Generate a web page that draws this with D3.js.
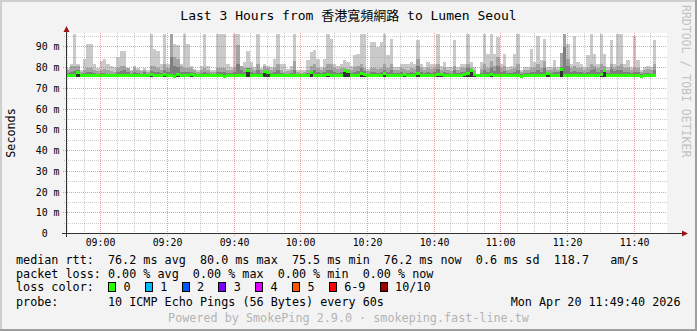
<!DOCTYPE html>
<html>
<head>
<meta charset="utf-8">
<script src="https://cdn.jsdelivr.net/npm/d3@7"></script>
<style>
  html, body { margin: 0; padding: 0; background: #f3f3f3; }
  svg { display: block; }
  text { font-family: "DejaVu Sans Mono", "Noto Sans CJK TC", monospace; white-space: pre; }
</style>
</head>
<body>
<div id="chart"></div>
<script>
/* Data (ms), one value per minute, 08:49:40 .. 11:49:40 */
const rttMax = [
  80, 82, 97, 82, 79, 84, 91.5, 91.5, 82, 80,
  83, 84, 82, 81, 80.5, 85, 88, 88, 80, 79,
  81, 80, 79, 80, 79, 97, 89, 88, 82, 97,
  82, 97, 91.5, 90.7, 82, 97, 91.5, 80.6, 79.5, 78.7,
  81, 97, 81, 78.7, 78.7, 97, 97, 97, 82, 80.3,
  97, 97, 81, 82.7, 88, 82.7, 80.3, 97, 80, 82,
  81, 80.3, 84.3, 97, 82, 82, 79.5, 81, 97, 78.7,
  78.7, 78.7, 83.5, 87.5, 88.3, 84.3, 80.3, 84.3, 97, 94,
  82, 81, 82, 83.5, 82.7, 81, 86, 86.7, 97, 97,
  79.5, 92.3, 92.3, 90, 92.3, 97, 86, 94, 80.3, 80.3,
  82, 82, 82, 82.7, 82, 93.5, 82, 80.3, 82.7, 82,
  82, 97, 81, 82.7, 80.3, 80.3, 93.5, 80.3, 82, 82,
  97, 82.7, 80.3, 77.1, 82.7, 97, 86.7, 97, 86.7, 94.7,
  82, 86.7, 80.3, 81, 86.7, 97, 78.7, 80.3, 80.3, 89,
  82.7, 95.5, 83.5, 94, 80.3, 80.3, 83.5, 80.3, 86, 97,
  91.5, 82, 95.5, 82.7, 82, 80.3, 86, 97, 86.7, 82,
  97, 86.7, 80.3, 93.2, 82, 97, 97, 82, 83.5, 80.3,
  95.5, 83.5, 78.7, 80.3, 81, 80.3, 93.5, null, null, null
];
const rttP9 = [
  79, 81, 81, 81, 78, 79, 80, 80, 78.7, 78.5,
  79, 79.5, 79, 78.5, 78, 80, 81, 81, 80, 78.5,
  80, 79, 78.5, 79, 78, 80.6, 81, 80, 79, 82,
  80, 97, 85, 84, 81, 80, 80, 80, 79, 78,
  79, 80, 79, 78, 78, 80, 80, 80, 79, 79,
  80, 90.7, 81, 80, 80, 80, 79, 82, 79, 81,
  80, 79, 80, 82, 79, 78, 78.5, 79, 83, 78,
  77.5, 78, 79, 81, 82, 80, 79, 80, 82, 82,
  80, 79.5, 80, 80, 79.5, 79, 80.5, 81, 82, 80,
  78.5, 80, 80, 79.5, 80, 82, 80, 82, 79, 79,
  80, 79.5, 79, 80, 79.5, 84, 80, 79, 80, 79.5,
  80, 82, 79, 80, 79, 78.5, 81, 79, 80, 80,
  82, 80, 79, 77, 79.5, 82, 80, 83, 81, 85,
  80, 81, 79, 79.5, 80, 82, 78, 79, 79, 80,
  80, 82, 80, 83, 79, 79, 80, 79, 87, 97,
  84, 80, 81, 80, 80, 79, 80, 82, 81, 80,
  82, 81, 79, 82, 80, 81, 82, 80, 80, 79,
  80, 80, 78, 79, 79.5, 79, 82, null, null, null
];
const rttP8 = [
  77.5, 78, 78.5, 79, 77, 77.5, 78, 78, 77.5, 77,
  77.5, 77.5, 77, 77, 77, 78, 78.5, 79, 78, 77,
  78, 77.5, 77, 78, 77, 78.5, 78, 78, 77.5, 79,
  78, 85, 81, 80.5, 78, 78, 78, 78, 77.5, 77,
  77.5, 78, 77.5, 77, 77, 78, 78, 78, 77.5, 77.5,
  78, 82, 79, 78, 80, 78, 77.5, 79, 77.5, 79,
  78.5, 77.5, 78, 79, 77.5, 77, 77, 77.5, 79, 77,
  76.5, 77, 77.5, 78.5, 79, 78, 77.5, 78, 79, 79,
  78, 77.5, 78, 79.5, 78, 77.5, 78, 78.5, 80, 78.5,
  77, 78, 78, 77.5, 78, 79, 78, 79, 77.5, 77.5,
  78, 77.5, 77.5, 78, 77.5, 81, 78, 77.5, 78, 77.5,
  78, 79.5, 77.5, 78, 77.5, 77, 79, 77.5, 78, 78,
  80, 79.5, 77.5, 76.5, 77.5, 79, 78, 80, 78.5, 81,
  78, 78.5, 77.5, 77.5, 78, 79, 77, 77.5, 77.5, 78,
  78, 79, 78, 80, 78, 77.5, 78, 78, 80.5, 90,
  81, 78, 78.5, 78, 78, 77.5, 78, 79, 79.5, 78,
  79, 78.5, 77.5, 79.5, 78.5, 79, 79, 78, 78, 77.5,
  78, 78, 77, 77.5, 77.5, 77, 79, null, null, null
];
const rttMed = [
  76.0, 76.2, 76.4, 77.8, 76.2, 76.0, 76.2, 76.2, 76.0, 76.0,
  76.2, 76.2, 76.0, 76.2, 76.4, 76.2, 76.0, 76.4, 76.2, 76.0,
  76.2, 76.4, 76.2, 76.0, 76.2, 76.6, 76.2, 76.2, 76.0, 76.6,
  76.4, 76.2, 75.8, 76.6, 76.2, 76.4, 76.2, 76.6, 76.2, 76.0,
  76.2, 76.2, 76.0, 76.2, 76.4, 76.2, 76.0, 75.8, 76.2, 76.2,
  76.4, 76.2, 76.4, 76.0, 78.4, 76.2, 76.0, 76.2, 76.4, 78.0,
  77.6, 76.2, 76.0, 76.4, 76.2, 76.0, 76.2, 76.0, 76.4, 76.2,
  76.0, 76.2, 76.4, 77.8, 76.2, 76.0, 76.2, 76.4, 76.8, 76.2,
  76.2, 76.0, 76.2, 78.8, 78.0, 76.2, 76.4, 76.2, 77.4, 76.6,
  76.2, 76.4, 76.2, 76.0, 76.2, 77.0, 76.2, 76.4, 76.2, 76.2,
  76.0, 76.8, 76.2, 76.4, 76.2, 77.2, 76.4, 76.2, 76.0, 76.2,
  76.2, 76.6, 76.8, 76.2, 76.0, 76.2, 76.2, 76.0, 76.4, 76.6,
  77.4, 78.6, 76.6, 76.2, 76.0, 76.2, 76.2, 76.6, 76.4, 76.2,
  76.0, 76.2, 76.2, 76.4, 76.2, 76.0, 75.8, 76.0, 76.2, 76.2,
  76.2, 76.2, 76.2, 76.4, 77.2, 76.2, 76.0, 76.2, 79.2, 76.4,
  76.2, 76.2, 76.2, 76.2, 76.0, 76.2, 76.2, 76.4, 76.2, 76.2,
  76.6, 78.6, 76.2, 76.2, 76.2, 76.0, 76.2, 76.2, 76.2, 76.4,
  76.2, 76.0, 75.8, 76.2, 76.2, 76.0, 76.4, null, null, null
];
const minRtt = 75.5;

const smokeColors = ['#cacaca', '#a4a4a4', '#7e7e7e', '#323232'];

const yMajorTicks = [0, 10, 20, 30, 40, 50, 60, 70, 80, 90];
const yTickLabels = ['0  ', '10 m', '20 m', '30 m', '40 m', '50 m', '60 m', '70 m', '80 m', '90 m'];

const lossLabels = ['0', '1', '2', '3', '4', '5', '6-9', '10/10'];
const lossColors = ['#26ff00', '#00b8ff', '#0059ff', '#7e00ff', '#dd00ff', '#ff5500', '#ff0000', '#a10000'];

const rttLegend = ['76.2 ms avg', '80.0 ms max', '75.5 ms min', '76.2 ms now', '0.6 ms sd', '118.7   am/s'];
const lossLegend = ['0.00 % avg', '0.00 % max', '0.00 % min', '0.00 % now'];

const TITLE = 'Last 3 Hours from 香港寬頻網路 to Lumen Seoul';
const PROBE = '10 ICMP Echo Pings (56 Bytes) every 60s';
const STAMP = 'Mon Apr 20 11:49:40 2026';
const WATERMARK = 'RRDTOOL / TOBI OETIKER';
const FOOTER = 'Powered by SmokePing 2.9.0 · smokeping.fast-line.tw';

/* Layout */
const W = 697, H = 331;
const T0 = new Date(2026, 3, 20, 8, 49, 40);
const T1 = new Date(2026, 3, 20, 11, 49, 40);
const x = d3.scaleTime().domain([T0, T1]).range([66.3, 666.3]);
const y = d3.scaleLinear().domain([0, 96.48]).range([233.5, 33.5]);
const colTime = function(i) { return d3.timeMinute.offset(T0, i); };
const crisp = function(v) { return Math.floor(v) + 0.5; };

const svg = d3.select('#chart').append('svg')
  .attr('width', W).attr('height', H);

// background + shaded frame
svg.append('rect').attr('width', W).attr('height', H).attr('fill', '#f3f3f3');
svg.append('rect').attr('x', 0).attr('y', 0).attr('width', W).attr('height', 2).attr('fill', '#cfcfcf');
svg.append('rect').attr('x', 0).attr('y', 0).attr('width', 2).attr('height', H).attr('fill', '#cfcfcf');
svg.append('rect').attr('x', 0).attr('y', H - 2).attr('width', W).attr('height', 2).attr('fill', '#9e9e9e');
svg.append('rect').attr('x', W - 2).attr('y', 0).attr('width', 2).attr('height', H).attr('fill', '#9e9e9e');

// canvas
svg.append('rect')
  .attr('x', 66).attr('y', 33).attr('width', 601).attr('height', 201)
  .attr('fill', '#ffffff');

/* Smoke */
const cols = d3.range(rttMax.length);
const smoke = svg.append('g').attr('shape-rendering', 'crispEdges');
[rttMax, rttP9, rttP8, rttMed].forEach(function(series, k) {
  smoke.append('g').selectAll('rect')
    .data(cols.filter(function(i) { return series[i] != null; }))
    .enter().append('rect')
    .attr('x', function(i) { return x(colTime(i)); })
    .attr('width', function(i) { return x(colTime(i + 1)) - x(colTime(i)); })
    .attr('y', function(i) { return y(Math.min(series[i], 96.48)); })
    .attr('height', function(i) { return Math.max(0, y(minRtt) - y(Math.min(series[i], 96.48))); })
    .attr('fill', smokeColors[k]);
});

/* Median (loss 0) */
svg.append('g').attr('shape-rendering', 'crispEdges').selectAll('rect')
  .data(cols.filter(function(i) { return rttMed[i] != null; }))
  .enter().append('rect')
  .attr('x', function(i) { return x(colTime(i)); })
  .attr('width', function(i) { return x(colTime(i + 1)) - x(colTime(i)); })
  .attr('y', function(i) { return y(rttMed[i]) - 1.5; })
  .attr('height', 3)
  .attr('fill', lossColors[0]);

/* Grid */
const grid = svg.append('g').attr('shape-rendering', 'crispEdges');
const minorColor = 'rgba(143,143,143,0.45)';
const majorColor = 'rgba(222,80,80,0.55)';

const xMinor = d3.timeMinute.every(5).range(T0, T1).filter(function(t) { return t.getMinutes() % 20 !== 0; });
const xMajor = d3.timeMinute.every(20).range(T0, T1);
const yMinor = d3.range(5, 96, 10);

grid.selectAll('.xminor').data(xMinor).enter().append('line')
  .attr('x1', function(d) { return crisp(x(d)); }).attr('x2', function(d) { return crisp(x(d)); })
  .attr('y1', 33).attr('y2', 235)
  .attr('stroke', minorColor).attr('stroke-dasharray', '1,1');
grid.selectAll('.yminor').data(yMinor).enter().append('line')
  .attr('x1', 64).attr('x2', 667)
  .attr('y1', function(d) { return crisp(y(d)); }).attr('y2', function(d) { return crisp(y(d)); })
  .attr('stroke', minorColor).attr('stroke-dasharray', '1,1');
grid.selectAll('.xmajor').data(xMajor).enter().append('line')
  .attr('x1', function(d) { return crisp(x(d)); }).attr('x2', function(d) { return crisp(x(d)); })
  .attr('y1', 33).attr('y2', 236)
  .attr('stroke', majorColor).attr('stroke-dasharray', '1,1');
grid.selectAll('.ymajor').data(yMajorTicks.slice(1)).enter().append('line')
  .attr('x1', 63).attr('x2', 667)
  .attr('y1', function(d) { return crisp(y(d)); }).attr('y2', function(d) { return crisp(y(d)); })
  .attr('stroke', majorColor).attr('stroke-dasharray', '1,1');

/* Axes */
const axisColor = '#333333';
const arrowColor = '#9b1515';
svg.append('line').attr('x1', 62).attr('x2', 683).attr('y1', 233.5).attr('y2', 233.5)
  .attr('stroke', axisColor).attr('shape-rendering', 'crispEdges');
svg.append('line').attr('x1', 66.5).attr('x2', 66.5).attr('y1', 237).attr('y2', 30)
  .attr('stroke', axisColor).attr('shape-rendering', 'crispEdges');
svg.append('path').attr('d', 'M682,230.5 L688,233.5 L682,236.5 Z').attr('fill', arrowColor);
svg.append('path').attr('d', 'M63.5,32 L66.5,26 L69.5,32 Z').attr('fill', arrowColor);

// tick labels
svg.append('g').selectAll('text').data(xMajor).enter().append('text')
  .attr('x', function(d) { return crisp(x(d)); })
  .attr('y', 246)
  .attr('text-anchor', 'middle')
  .attr('font-size', '9.9px')
  .text(d3.timeFormat('%H:%M'));
svg.append('g').selectAll('text').data(yMajorTicks).enter().append('text')
  .attr('x', 59.5)
  .attr('y', function(d) { return crisp(y(d)) + 3.6; })
  .attr('text-anchor', 'end')
  .attr('font-size', '9.9px')
  .text(function(d, i) { return yTickLabels[i]; });

svg.append('text')
  .attr('transform', 'translate(15,133) rotate(-90)')
  .attr('text-anchor', 'middle')
  .attr('font-size', '11.75px')
  .text('Seconds');

/* Title and watermark */
svg.append('text').attr('x', 348.5).attr('y', 20).attr('text-anchor', 'middle')
  .attr('font-size', '13px').text(TITLE);
svg.append('text')
  .attr('transform', 'translate(681.5,5) rotate(90)')
  .attr('font-size', '11.5px').attr('fill', '#c2c2c2')
  .text(WATERMARK);

/* Legend */
const LX = 16, VX = 108, FS = '11.75px';
const legend = svg.append('g').attr('font-size', FS);
legend.append('text').attr('x', LX).attr('y', 264)
  .text('median rtt:  ' + rttLegend.join('  '));
legend.append('text').attr('x', LX).attr('y', 278)
  .text('packet loss: ' + lossLegend.join('  '));
legend.append('text').attr('x', LX).attr('y', 291).text('loss color:');

var cursor = VX;
lossLabels.forEach(function(lbl, i) {
  legend.append('rect')
    .attr('x', cursor + 0.5).attr('y', 282.5).attr('width', 7).attr('height', 9)
    .attr('fill', lossColors[i]).attr('stroke', '#000').attr('stroke-width', 1)
    .attr('shape-rendering', 'crispEdges');
  var t = legend.append('text').attr('x', cursor + 15.5).attr('y', 291).text(lbl);
  cursor = cursor + 15.5 + t.node().getComputedTextLength() + 14.2;
});

legend.append('text').attr('x', LX).attr('y', 306).text('probe:');
legend.append('text').attr('x', VX).attr('y', 306).text(PROBE);
legend.append('text').attr('x', 680.5).attr('y', 306).attr('text-anchor', 'end').text(STAMP);

svg.append('text').attr('x', 348.5).attr('y', 322).attr('text-anchor', 'middle')
  .attr('font-size', FS).attr('fill', '#b4b4b4').text(FOOTER);
</script>
</body>
</html>
